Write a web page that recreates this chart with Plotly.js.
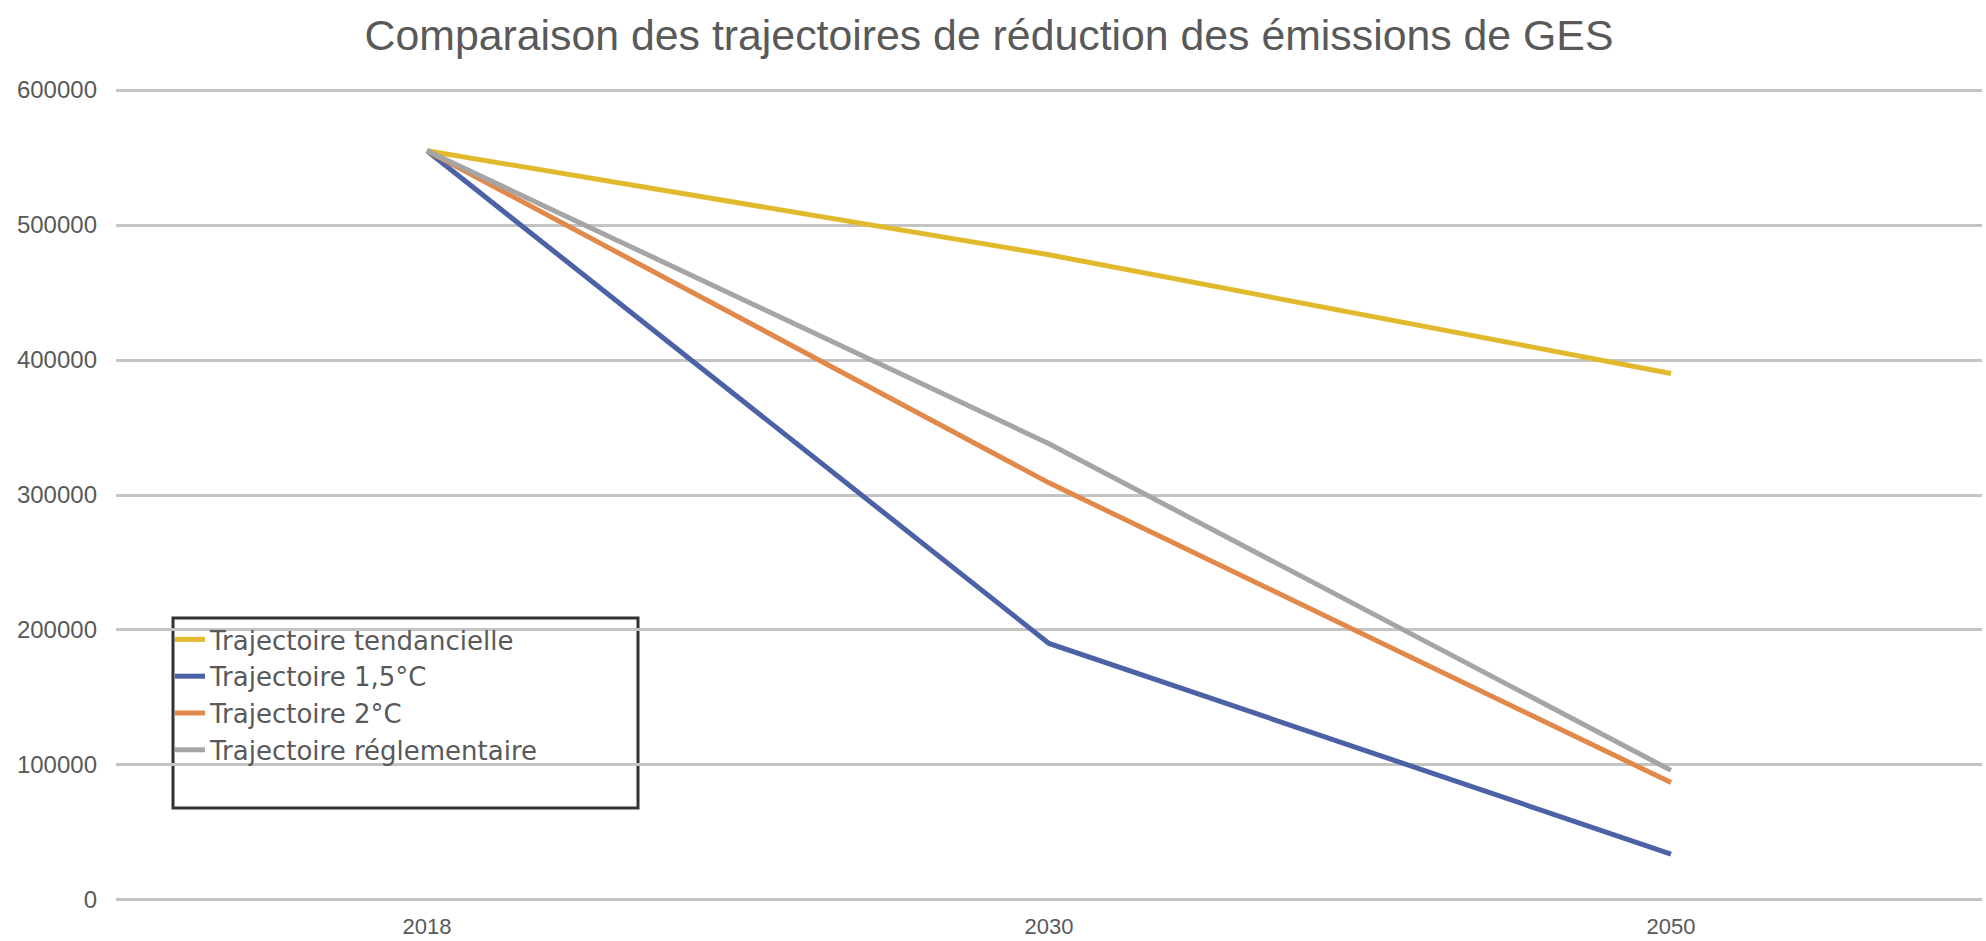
<!DOCTYPE html>
<html>
<head>
<meta charset="utf-8">
<script src="https://cdn.plot.ly/plotly-3.0.1.min.js"></script>
<style>
  html, body { margin: 0; padding: 0; background: #ffffff; }
  #chart { width: 1986px; height: 941px; }
</style>
</head>
<body>
<div id="chart"></div>
<script>
const years = ['2018', '2030', '2050'];
const seriesNames = ['Trajectoire tendancielle', 'Trajectoire 1,5°C', 'Trajectoire 2°C', 'Trajectoire réglementaire'];
const tendancielle = [555000, 478000, 390000];
const trajectoire15 = [555000, 190000, 34000];
const trajectoire2 = [555000, 309000, 87000];
const reglementaire = [555000, 338000, 96000];
const yTicks = [0, 100000, 200000, 300000, 400000, 500000, 600000];
const titleText = 'Comparaison des trajectoires de réduction des émissions de GES';

const colors = ['#E2B92C', '#4C62A6', '#E0894A', '#A5A5A5'];
const values = [tendancielle, trajectoire15, trajectoire2, reglementaire];

const traces = values.map((v, i) => ({
  type: 'scatter',
  mode: 'lines',
  x: years,
  y: v,
  name: seriesNames[i],
  line: { color: colors[i], width: 5 },
  hoverinfo: 'x+y+name'
}));

const font = "'Liberation Sans', Arial, sans-serif";
const legendFont = "'DejaVu Sans', Verdana, sans-serif";

// plot area: y=0 at 900px, y=600000 at 90px (1.35 px per 1000)
const pad = 3000;
const pxPer = 810 / 600000;
const mTop = 90 - pad * pxPer;
const mBot = 41 - pad * pxPer;
const plotH = 941 - mTop - mBot;
const yPaper = (py) => (941 - mBot - py) / plotH;
const xPaper = (px) => (px - 116) / 1866;

const layout = {
  width: 1986,
  height: 941,
  paper_bgcolor: '#ffffff',
  plot_bgcolor: '#ffffff',
  margin: { l: 116, r: 4, t: mTop, b: mBot, pad: 0 },
  title: {
    text: titleText,
    font: { family: font, size: 42.8, color: '#595959' },
    x: 0.498, xref: 'container', xanchor: 'center',
    y: 1 - 35 / 941, yref: 'container', yanchor: 'middle'
  },
  xaxis: {
    type: 'category',
    range: [-0.5, 2.5],
    showgrid: false,
    zeroline: false,
    showline: false,
    ticks: '',
    ticklabelstandoff: 7,
    tickfont: { family: font, size: 22, color: '#595959' },
    fixedrange: true
  },
  yaxis: {
    range: [-pad, 600000 + pad],
    tickvals: yTicks,
    ticktext: yTicks.map(String),
    showgrid: true,
    gridcolor: '#C4C4C4',
    gridwidth: 3,
    zeroline: false,
    showline: false,
    ticks: '',
    ticklabelstandoff: 18,
    tickfont: { family: font, size: 24, color: '#595959' },
    fixedrange: true
  },
  showlegend: true,
  legend: {
    x: xPaper(170),
    xanchor: 'left',
    y: yPaper(616),
    yanchor: 'top',
    bgcolor: 'rgba(0,0,0,0)',
    borderwidth: 0,
    font: { family: legendFont, size: 26, color: '#595959' },
    itemwidth: 30,
    tracegroupgap: 0
  },
  shapes: [{
    type: 'rect',
    xref: 'paper', yref: 'paper',
    x0: xPaper(173), x1: xPaper(638),
    y0: yPaper(808), y1: yPaper(618),
    line: { color: '#333333', width: 3 },
    fillcolor: '#ffffff',
    layer: 'between'
  }]
};

Plotly.newPlot('chart', traces, layout, { displayModeBar: false, staticPlot: true });
</script>
</body>
</html>
